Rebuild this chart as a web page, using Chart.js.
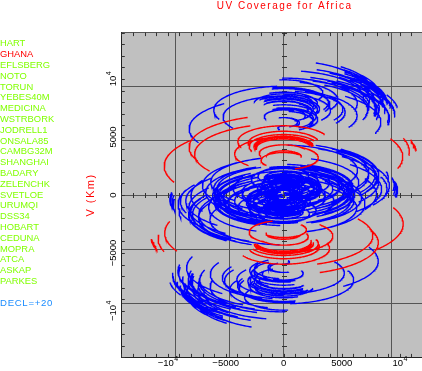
<!DOCTYPE html>
<html>
<head>
<meta charset="utf-8">
<script src="https://cdn.jsdelivr.net/npm/chart.js@4.4.1/dist/chart.umd.min.js"></script>
<style>
  html, body { margin: 0; padding: 0; background: #fff; overflow: hidden; }
  #wrap { position: relative; width: 422px; height: 371px; overflow: hidden; }
  #uv { position: absolute; left: 0; top: 0; }
  #stations { position: absolute; left: 0; top: 38.4px; font: 9.4px "Liberation Sans", Arial, sans-serif; line-height: 10.8px; color: #80ff00; }
  #decl { position: absolute; left: 0; top: 298.4px; font: 9.6px "Liberation Sans", Arial, sans-serif; line-height: 10.8px; letter-spacing: 0.7px; color: #1a8cff; }
</style>
</head>
<body>
<div id="wrap">
  <canvas id="uv" width="448" height="371"></canvas>
  <div id="stations"></div>
  <div id="decl"></div>
</div>
<script>
const stations = ['HART', 'GHANA', 'EFLSBERG', 'NOTO', 'TORUN', 'YEBES40M', 'MEDICINA', 'WSTRBORK',
  'JODRELL1', 'ONSALA85', 'CAMBG32M', 'SHANGHAI', 'BADARY', 'ZELENCHK', 'SVETLOE', 'URUMQI',
  'DSS34', 'HOBART', 'CEDUNA', 'MOPRA', 'ATCA', 'ASKAP', 'PARKES'];
const highlighted = 'GHANA';
const declination = 20;
const chartTitle = 'UV Coverage for Africa';
const yTitle = 'V (Km)';
const tickValues = [-10000, -5000, 0, 5000, 10000];
const tickLabels = ['-10^4', '-5000', '0', '5000', '10^4'];

// each track: [radius km, centre V km, hour angle start deg, hour angle end deg]
// the conjugate track (-u, -v) is drawn too
const ghanaTracks = [
  [2373, 4022, 105.6, 279], [1957, 2994, 136.7, 310.1], [2987, 4190, 117.7, 291.1],
  [1519, 3291, 84.4, 257.8], [2116, 3599, 119.7, 293.1], [2567, 4177, 103.6, 277],
  [2533, 4198, 90.3, 263.7], [3071, 4445, 107, 280.4], [2430, 4130, 93.8, 267.2],
  [4233, 3546, 165.7, 313.2], [3953, 4614, 116.7, 290.1], [2979, -3216, 198.8, 331.3],
  [10300, 2494, 231.9, 293.5], [8158, 4105, 202.4, 294.8], [7680, 3521, 202, 303.7],
  [11249, -3862, 273.1, 281], [11124, -4068, 274.9, 280.5], [11369, -3708, 272.8, 280.8],
  [11433, -3622, 272.6, 280.7], [10826, -3762, 264.7, 287.7], [10260, -3291, 253.2, 296.3]
];
const hartEurope = [
  [2419, 7238, 69.7, 217.3], [1354, 6210, 50.3, 197.9], [2047, 7405, 88.9, 236.5],
  [2935, 6507, 48.5, 192.4], [1856, 6815, 63.6, 211.2], [2554, 7393, 73.4, 221],
  [3089, 7414, 68.1, 215.7], [2600, 7661, 85.2, 232.8], [2905, 7346, 67.5, 215.1],
  [1679, 6761, 147.3, 294.9], [2601, 7830, 108.7, 256.3]
];
const hartAsia = [[8150, 5710, 219, 295.7], [6027, 7321, 185.4, 292.9], [5226, 6737, 186.6, 303.4]];
const hartAustralia = [
  [9619, -646, 259.4, 282.4], [9524, -853, 260.9, 281.6], [9015, -1452, 264.1, 280.6],
  [8907, -546, 251.4, 289.5], [9747, -493, 259.2, 282.3], [9816, -406, 259.1, 282.2],
  [8001, -75, 240.9, 299.1]
];
const europeShanghai = [
  [8024, -1528, 236.2, 325.5], [8441, -500, 228.2, 317.4], [7316, -1696, 232.9, 336],
  [9110, -797, 237.5, 310.5], [8183, -1105, 232.1, 322.2], [7872, -1684, 237.3, 328.1],
  [8201, -1704, 240.8, 323], [7342, -1951, 237.4, 337.9], [8192, -1637, 239.5, 323.7],
  [6471, -1052, 219.2, 338.7], [6358, -2121, 234.1, 356.8]
];
const europeBadary = [
  [5911, 83, 208.7, 328.8], [6291, 1111, 197.8, 317.8], [5181, -85, 204.6, 338.5],
  [7006, 814, 210, 313.8], [6044, 506, 203.1, 324], [5768, -72, 210.3, 331.9],
  [6133, -93, 214.8, 327.8], [5240, -340, 210.8, 342.1], [6109, -25, 213.1, 328.1],
  [4349, 559, 184.6, 334.9], [4231, -509, 206.8, 360.3]
];
const europeUrumqi = [
  [5611, -501, 212.1, 341.5], [5739, 527, 199.8, 329.1], [4808, -668, 209.7, 352.9],
  [6712, 230, 211.3, 324.4], [5613, -78, 205.9, 336.1], [5506, -656, 214, 344.9],
  [5966, -677, 217.8, 340.1], [5008, -924, 216, 356.6], [5903, -609, 216.1, 340.4],
  [3574, -24, 190.7, 350.3], [3947, -1093, 215.5, 378.3]
];
const europeAustralia = [
  [8877, -7884, 273.7, 309.3], [8178, -8307, 273.4, 320.2], [9871, -7152, 276.6, 295.9],
  [9584, -6855, 267.5, 303], [7988, -7407, 256.8, 322.6], [7371, -8476, 268.3, 337.3],
  [8864, -8060, 278, 306.5], [8324, -8051, 269.5, 318.9], [9189, -7461, 270.4, 306.8],
  [8689, -8039, 274.3, 311.4], [8907, -7992, 276.9, 307.4], [8218, -8690, 279.3, 308.4],
  [7519, -9113, 278.9, 319.2], [7400, -8214, 260.8, 320.1], [6729, -9283, 273.2, 335.7],
  [8943, -7662, 272.7, 301.7], [7677, -8858, 274.7, 317.6], [8488, -7784, 267.1, 317.8],
  [7789, -8207, 267.6, 329.5], [9540, -7053, 269.3, 303.7], [9046, -6756, 260, 310.6],
  [7236, -7308, 250.2, 331.1], [6878, -8376, 263.3, 347.4], [8575, -7960, 271.6, 315.2],
  [8721, -7361, 263.4, 314.9], [8025, -7313, 258.3, 329.1], [7355, -7736, 259.8, 341.8],
  [9121, -6582, 259.2, 313.7], [8371, -6285, 250.1, 320.8], [6327, -6837, 242.1, 343.1],
  [6344, -7905, 257.1, 361.3], [8242, -7489, 262.8, 326.5], [7883, -7468, 259.4, 331.7],
  [7290, -7481, 255.4, 340], [8997, -7731, 273.3, 309], [8185, -7168, 256.5, 322.5],
  [8053, -8514, 274.9, 319.4]
];
const asiaAustralia = [
  [2528, -6355, 211.3, 350.4], [2422, -7162, 202.4, 327.2], [1195, -6256, 203.7, 344.5],
  [504, -5785, -13.6, 133], [3852, -7967, 242.8, 374.7], [3381, -8773, 241.7, 366.5],
  [2911, -7867, 244.4, 385.2], [2115, -7396, 259.1, 405.7], [5101, -7383, 237.8, 349],
  [4667, -8189, 238.2, 342.9], [4037, -7283, 233.2, 359.5], [2818, -6812, 232.9, 379.3],
  [2568, -6562, 210, 346.4], [5294, -7143, 238.1, 349.5], [3980, -7813, 243, 375]
];
const asiaAsia = [[2151, 1611, 47, 232.6], [3053, 1027, 25.7, 190.6], [1309, -584, -41.8, 153.9]];
const australiaAustralia = [
  [673, -807, 111.1, 235.9], [1352, 100, 24.7, 150.4], [3026, 571, 29.7, 141.1],
  [2924, 1377, 23.4, 128.3], [1401, 906, 3, 122.2], [1683, 471, 18.6, 145.1],
  [3069, 777, 29, 138.1], [3123, 417, 31.2, 142.7], [784, -960, 106, 230.8],
  [1443, 54, 208.3, 334.1], [3176, 331, 31.9, 143.5], [535, 600, -77.4, 47.4],
  [1414, -306, 200.7, 324.1]
];
const europeEurope = [
  [1226, -1028, -126.8, 71.2], [1104, -731, -57.8, 140.3], [701, 423, 98.4, 312.8],
  [1687, 592, 131.5, 333.5], [2632, -477, 196.1, 371.3], [2790, 1324, 132.8, 318.5],
  [3595, 255, 186, 344.9], [1678, 1451, 74.8, 272.8], [2216, 1621, 102.2, 300.2],
  [3227, -652, 202.3, 370.4], [2028, 416, 149.6, 344.5], [1768, 1154, 111.8, 311.1],
  [1911, 899, 140, 328.5], [1412, 1183, 57.6, 255.6], [1846, 1204, 43.1, 234.1],
  [3085, -585, 200.2, 370.3], [1844, -644, 203.1, 392.1], [1383, -8, 171.7, 369.4],
  [1108, 846, 77.6, 284.1], [1659, 1069, 54.6, 260], [1581, -297, 189.1, 370.9],
  [1034, 907, 82, 283.8], [2282, 552, 168.4, 343.5], [2361, -54, 183.6, 359.6],
  [2343, -900, 210.9, 397.3], [2638, -632, 200.7, 377.4], [1239, 886, 112.1, 312.3],
  [1301, 1196, 91.5, 289.5], [1957, -484, -35.3, 161.6], [833, 167, 150.8, 355.6],
  [606, -423, -137.1, 68.6], [674, 176, 8.2, 215.5], [622, 605, 55.8, 253.8],
  [573, 256, 27.1, 243.1], [968, 425, 112.7, 328.5], [1241, 308, 160.1, 349.5],
  [965, 839, 91.9, 293.7], [1843, 1015, 112.4, 315.2], [1247, 599, 29.2, 227.8],
  [1061, 169, 145.1, 358.3], [1564, 437, 137.6, 341.1], [1661, 1136, 43.6, 236.6],
  [974, 247, 141, 349.5]
];
const otherTracks = [].concat(hartEurope, hartAsia, hartAustralia, europeShanghai, europeBadary,
  europeUrumqi, europeAustralia, asiaAustralia, asiaAsia, australiaAustralia, europeEurope);

// legend text
const list = document.getElementById('stations');
stations.forEach(name => {
  const d = document.createElement('div');
  d.textContent = name;
  if (name === highlighted) d.style.color = '#ff0000';
  list.appendChild(d);
});
document.getElementById('decl').textContent = 'DECL=+' + declination;

const axisRatio = Math.sin(declination * Math.PI / 180);

function trackPoints(tracks) {
  const pts = [];
  tracks.forEach(([r, v0, h0, h1]) => {
    [1, -1].forEach(sign => {
      const n = Math.max(2, Math.ceil((h1 - h0) / 1.5));
      for (let i = 0; i <= n; i++) {
        const t = (h0 + (h1 - h0) * i / n) * Math.PI / 180;
        pts.push({ x: sign * r * Math.sin(t), y: sign * (v0 - axisRatio * r * Math.cos(t)) });
      }
      pts.push({ x: null, y: null });
    });
  });
  return pts;
}

function drawTickText(ctx, label, x, y) {
  const [base, power] = label.split('^');
  const text = base.replace('-', '\u2212');
  ctx.font = '9.5px "Liberation Sans", Arial, sans-serif';
  const wb = ctx.measureText(text).width;
  let ws = 0;
  if (power) {
    ctx.font = '7px "Liberation Sans", Arial, sans-serif';
    ws = ctx.measureText(power).width;
  }
  const start = x - (wb + ws) / 2;
  ctx.textAlign = 'left';
  ctx.textBaseline = 'middle';
  ctx.font = '9.5px "Liberation Sans", Arial, sans-serif';
  ctx.fillText(text, start, y);
  if (power) {
    ctx.font = '7px "Liberation Sans", Arial, sans-serif';
    ctx.fillText(power, start + wb + 0.5, y - 4);
  }
}

const frame = {
  id: 'frame',
  beforeDraw(chart) {
    const { ctx, chartArea: a } = chart;
    ctx.save();
    ctx.fillStyle = '#c0c0c0';
    ctx.fillRect(a.left, a.top, a.right - a.left, a.bottom - a.top);
    ctx.restore();
  },
  beforeDatasetsDraw(chart) {
    const { ctx, chartArea: a, scales: { x, y } } = chart;
    const x0 = Math.round(x.getPixelForValue(0)) + 0.5;
    const y0 = Math.round(y.getPixelForValue(0)) + 0.5;
    ctx.save();
    ctx.strokeStyle = '#333';
    ctx.lineWidth = 1;
    ctx.beginPath();
    for (let v = -14000; v <= 14000; v += 1000) {
      const px = Math.round(x.getPixelForValue(v)) + 0.5;
      const py = Math.round(y.getPixelForValue(v)) + 0.5;
      ctx.moveTo(px, a.top); ctx.lineTo(px, a.top + 3.5);
      ctx.moveTo(px, a.bottom); ctx.lineTo(px, a.bottom - 3.5);
      ctx.moveTo(a.left, py); ctx.lineTo(a.left + 3.5, py);
      ctx.moveTo(px, y0 - 2.5); ctx.lineTo(px, y0 + 2.5);
      ctx.moveTo(x0 - 2.5, py); ctx.lineTo(x0 + 2.5, py);
    }
    ctx.stroke();
    ctx.restore();
  },
  afterDraw(chart) {
    const { ctx, chartArea: a, scales: { x, y } } = chart;
    ctx.save();
    ctx.fillStyle = '#000';
    tickValues.forEach((v, i) => {
      drawTickText(ctx, tickLabels[i], x.getPixelForValue(v), a.bottom + 6);
      ctx.save();
      ctx.translate(a.left - 8.3, y.getPixelForValue(v));
      ctx.rotate(-Math.PI / 2);
      drawTickText(ctx, tickLabels[i], 0, 0);
      ctx.restore();
    });
    ctx.fillStyle = '#ff0000';
    ctx.textAlign = 'center';
    ctx.textBaseline = 'middle';
    ctx.font = '10px "Liberation Sans", Arial, sans-serif';
    ctx.letterSpacing = '1.5px';
    ctx.fillText(chartTitle, (a.left + a.right) / 2 + 1, 6);
    ctx.font = '11px "Liberation Sans", Arial, sans-serif';
    ctx.letterSpacing = '1.5px';
    ctx.translate(91, (a.top + a.bottom) / 2);
    ctx.rotate(-Math.PI / 2);
    ctx.fillText(yTitle, 0, 0);
    ctx.restore();
  }
};

new Chart(document.getElementById('uv'), {
  type: 'scatter',
  data: {
    datasets: [
      { data: trackPoints(ghanaTracks), borderColor: '#ff0000', showLine: true, pointRadius: 0, borderWidth: 1.4, spanGaps: false },
      { data: trackPoints(otherTracks), borderColor: '#0000ff', showLine: true, pointRadius: 0, borderWidth: 1.4, spanGaps: false }
    ]
  },
  options: {
    responsive: false,
    animation: false,
    events: [],
    layout: { padding: { left: 121.3, right: 1.9, top: 32.6, bottom: 13.6 } },
    plugins: { legend: { display: false }, tooltip: { enabled: false } },
    scales: {
      x: {
        type: 'linear', min: -14000, max: 14000,
        ticks: { display: false, stepSize: 5000 },
        grid: { color: '#555', drawTicks: false },
        border: { color: '#222' },
        afterFit(s) { s.height = 0; }
      },
      y: {
        type: 'linear', min: -14000, max: 14000,
        ticks: { display: false, stepSize: 5000 },
        grid: { color: '#555', drawTicks: false },
        border: { color: '#222' },
        afterFit(s) { s.width = 0; }
      }
    }
  },
  plugins: [frame]
});
</script>
</body>
</html>
